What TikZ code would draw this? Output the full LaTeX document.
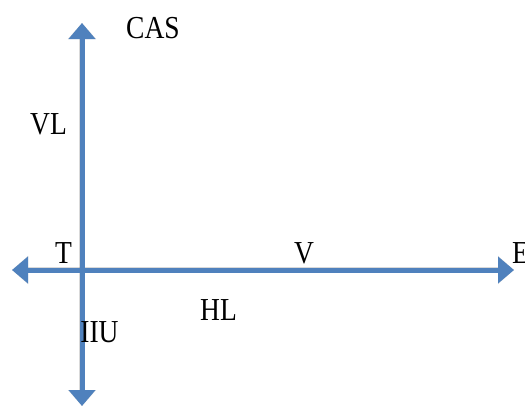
\documentclass[tikz,border=0pt]{standalone}
\usepackage{fontspec}
\setmainfont{Liberation Serif}
\usetikzlibrary{arrows.meta}
\definecolor{axisblue}{HTML}{4F81BD}
\tikzset{
  axisline/.style={draw=axisblue, line width=5pt, {Triangle[width=26pt,length=16pt]}-{Triangle[width=26pt,length=16pt]}},
  axisshadow/.style={draw=black, opacity=0.15, line width=6pt, {Triangle[width=27pt,length=16pt]}-{Triangle[width=27pt,length=16pt]}},
  lbl/.style={inner sep=0pt, font=\fontsize{32}{36}\selectfont, anchor=base, xscale=0.86}
}
\begin{document}
\begin{tikzpicture}[x=1pt,y=-1pt]
\useasboundingbox (0,0) rectangle (525,405);
\coordinate (top) at (82,23);
\coordinate (bottom) at (82,406);
\coordinate (left) at (12,270);
\coordinate (right) at (514,270);
\begin{scope}[shift={(1.5,3)}]
\draw[axisshadow] (bottom) -- (top);
\draw[axisshadow] (left) -- (right);
\end{scope}
\draw[axisline] (bottom) -- (top);
\draw[axisline] (left) -- (right);
\node[lbl] (cas) at (153,38) {CAS};
\node[lbl] (vl) at (48.5,134) {VL};
\node[lbl] (t) at (63.5,263) {T};
\node[lbl] (v) at (304,263) {V};
\node[lbl, anchor=base west] (e) at (512,263) {E};
\node[lbl] (hl) at (218.5,320) {HL};
\node[lbl] (iiu) at (99.5,342) {IIU};
\end{tikzpicture}
\end{document}
